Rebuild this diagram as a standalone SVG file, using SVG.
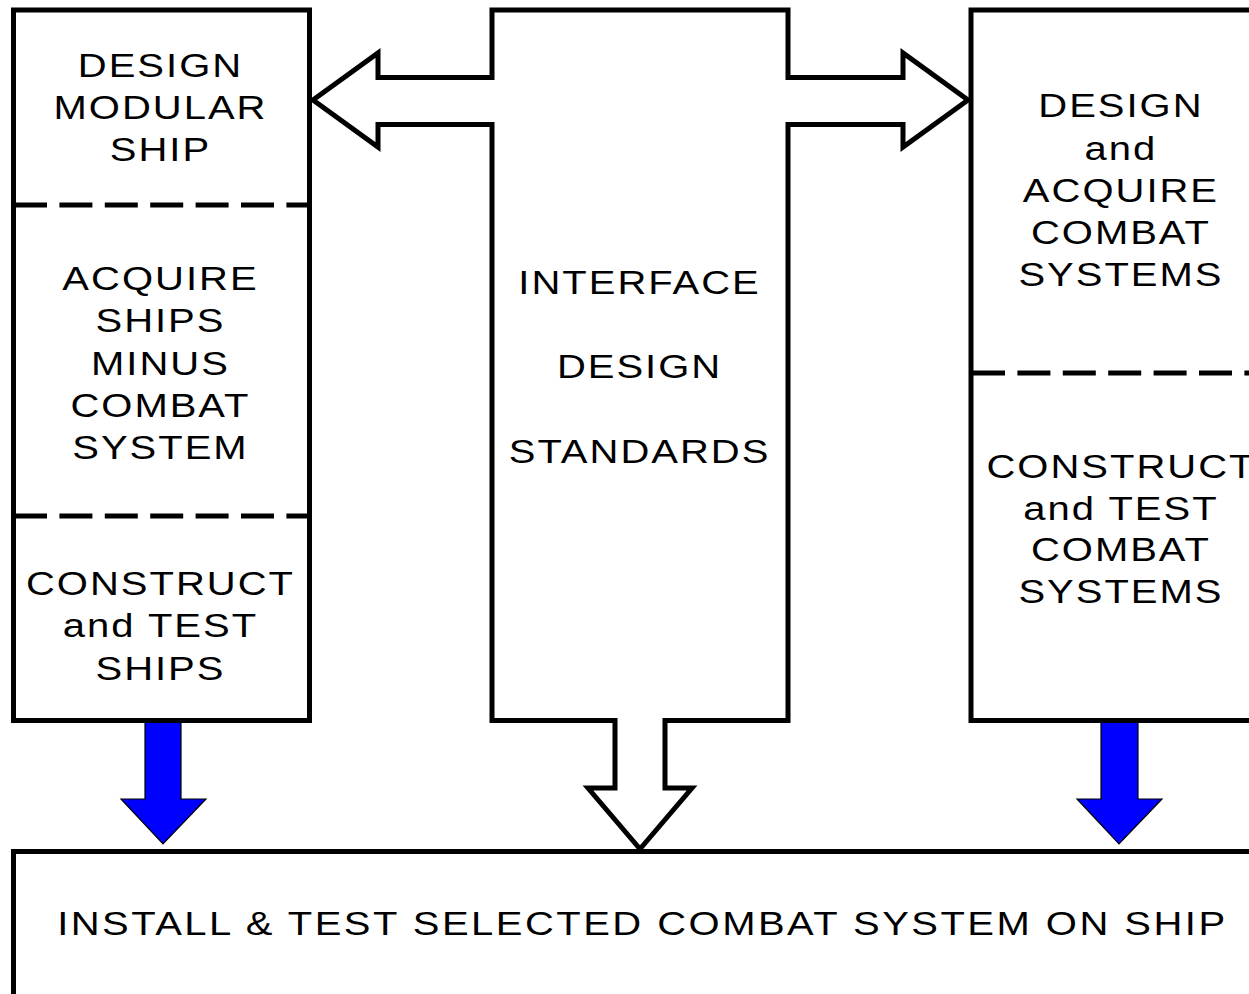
<svg xmlns="http://www.w3.org/2000/svg" width="1249" height="994" viewBox="0 0 1249 994">
<style>
.box{fill:none;stroke:#000;stroke-width:5;stroke-linejoin:miter;stroke-miterlimit:10}
.dash{fill:none;stroke:#000;stroke-width:5;stroke-dasharray:33 12.4}
.blue{fill:#0000ff;stroke:#000;stroke-width:1.2;stroke-linejoin:miter}
text{font-family:"Liberation Sans",Arial,sans-serif;font-size:34px;letter-spacing:1.7px;text-anchor:middle;fill:#000}
.wide{letter-spacing:2.1px}
</style>
<rect width="1249" height="994" fill="#fff"/>
<g id="connectors">
<path class="blue" d="M145,721 V799 H121 L163,844 L206,799 H181 V721 Z"/>
<path class="blue" d="M1101,721 V799 H1077 L1119,844 L1162,799 H1138 V721 Z"/>
</g>
<g id="left-box">
<rect class="box" x="13.5" y="10" width="296" height="710.5"/>
<line class="dash" x1="14" y1="205" x2="307" y2="205"/>
<line class="dash" x1="14" y1="516" x2="307" y2="516"/>
<g transform="scale(1.1765,1)">
<text x="136.4" y="77">DESIGN</text>
<text x="136.4" y="119">MODULAR</text>
<text x="136.4" y="161">SHIP</text>
<text x="136.4" y="290">ACQUIRE</text>
<text x="136.4" y="332">SHIPS</text>
<text x="136.4" y="375">MINUS</text>
<text x="136.4" y="417">COMBAT</text>
<text x="136.4" y="459">SYSTEM</text>
<text x="136.4" y="595">CONSTRUCT</text>
<text x="136.4" y="637">and TEST</text>
<text x="136.4" y="680">SHIPS</text>
</g>
</g>
<g id="center-box">
<path class="box" d="M492,77.5 V10 H788 V77.5 H903 V53 L968,100 L903,147 V124.5 H788 V720.5 H665 V788 H692 L640,849 L588,788 H615 V720.5 H492 V124.5 H378 V147 L313,100 L378,53 V77.5 Z"/>
<g transform="scale(1.1765,1)">
<text x="543.6" y="294">INTERFACE</text>
<text x="543.6" y="378">DESIGN</text>
<text x="543.6" y="463">STANDARDS</text>
</g>
</g>
<g id="right-box">
<path class="box" d="M1260,10 H971 V720.5 H1260"/>
<line class="dash" x1="972" y1="373" x2="1249" y2="373"/>
<g transform="scale(1.1765,1)">
<text x="952.8" y="117">DESIGN</text>
<text x="952.8" y="160">and</text>
<text x="952.8" y="202">ACQUIRE</text>
<text x="952.8" y="244">COMBAT</text>
<text x="952.8" y="286">SYSTEMS</text>
<text x="952.8" y="478">CONSTRUCT</text>
<text x="952.8" y="520">and TEST</text>
<text x="952.8" y="561">COMBAT</text>
<text x="952.8" y="603">SYSTEMS</text>
</g>
</g>
<g id="bottom-box">
<path class="box" d="M1260,851.5 H13.5 V1000"/>
<g transform="scale(1.1765,1)">
<text class="wide" x="546" y="935">INSTALL &amp; TEST SELECTED COMBAT SYSTEM ON SHIP</text>
</g>
</g>
</svg>
